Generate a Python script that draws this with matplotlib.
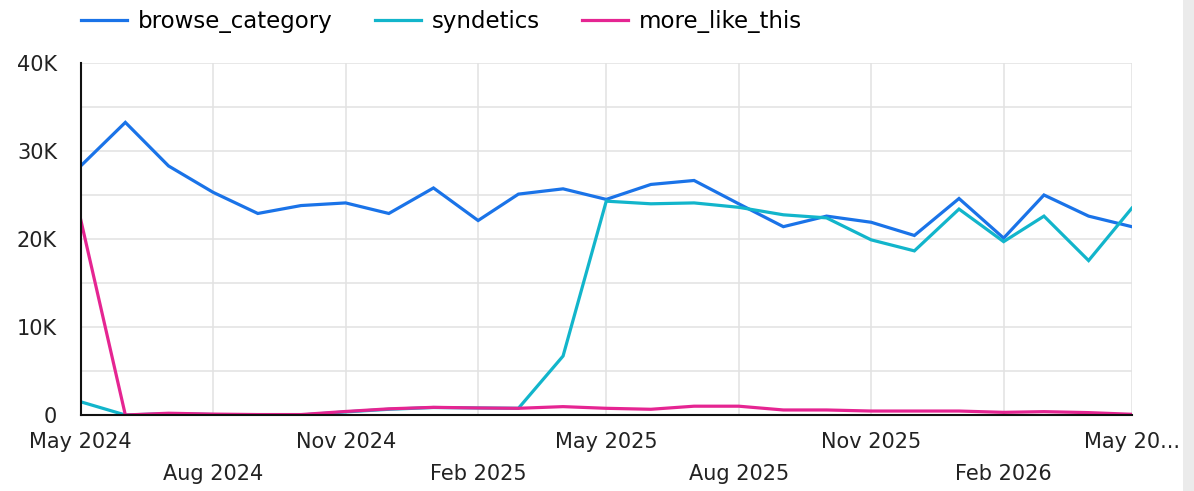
import matplotlib
matplotlib.use("Agg")
import matplotlib.pyplot as plt
from matplotlib.ticker import FuncFormatter, MultipleLocator
from matplotlib.patches import Rectangle
import pandas as pd

months = pd.date_range("2024-05-01", periods=25, freq="MS")

browse_category = [28.3, 33.25, 28.3, 25.3, 22.9, 23.8, 24.1, 22.9, 25.8, 22.1,
                   25.1, 25.7, 24.5, 26.2, 26.65, 24.0, 21.4, 22.6, 21.9, 20.4,
                   24.6, 20.1, 25.0, 22.6, 21.4]
syndetics = [1.5, 0.0, 0.15, 0.05, 0.0, 0.0, 0.35, 0.65, 0.85, 0.8,
             0.76, 6.7, 24.3, 24.0, 24.1, 23.6, 22.75, 22.4, 19.9, 18.65,
             23.4, 19.7, 22.6, 17.55, 23.5]
more_like_this = [22.2, 0.0, 0.2, 0.1, 0.05, 0.05, 0.4, 0.7, 0.87, 0.8,
                  0.76, 0.95, 0.76, 0.65, 1.0, 1.0, 0.57, 0.57, 0.45, 0.45,
                  0.45, 0.3, 0.38, 0.27, 0.08]

series_names = ["browse_category", "syndetics", "more_like_this"]
series_colors = ["#1A73E8", "#12B5CB", "#E52592"]

row1_dates = ["2024-05-01", "2024-11-01", "2025-05-01", "2025-11-01", "2026-05-01"]
row1_labels = ["May 2024", "Nov 2024", "May 2025", "Nov 2025", "May 20..."]
row2_dates = ["2024-08-01", "2025-02-01", "2025-08-01", "2026-02-01"]
row2_labels = ["Aug 2024", "Feb 2025", "Aug 2025", "Feb 2026"]

plt.rcParams["font.family"] = ["DejaVu Sans"]

fig = plt.figure(figsize=(11.94, 4.91), dpi=100)
ax = fig.add_axes([0.0676, 0.1548, 0.8803, 0.7169])

for vals, name, col in zip([browse_category, syndetics, more_like_this],
                           series_names, series_colors):
    ax.plot(months, [v * 1000 for v in vals], color=col, lw=2.3,
            label=name, solid_joinstyle="miter", zorder=3)

ax.set_ylim(0, 40000)
ax.set_xlim(months[0], months[-1])

ax.yaxis.set_major_locator(MultipleLocator(10000))
ax.yaxis.set_minor_locator(MultipleLocator(5000))
ax.yaxis.set_major_formatter(
    FuncFormatter(lambda v, p: "0" if v == 0 else f"{int(v/1000)}K"))

# Quarterly labels staggered over two rows
ax.set_xticks([pd.Timestamp(d) for d in row1_dates])
ax.set_xticklabels(row1_labels)
ax.set_xticks([pd.Timestamp(d) for d in row2_dates], minor=True)
ax.set_xticklabels(row2_labels, minor=True)

ax.tick_params(axis="both", which="both", length=0, labelsize=15,
               labelcolor="#222222")
ax.tick_params(axis="x", which="major", pad=12)
ax.tick_params(axis="x", which="minor", pad=35.5)
ax.tick_params(axis="y", which="both", pad=17)

ax.grid(True, which="both", color="#E2E2E2", lw=1.1, zorder=0)
for s in ["top", "right"]:
    ax.spines[s].set_visible(False)
for s in ["left", "bottom"]:
    ax.spines[s].set_color("#111111")
    ax.spines[s].set_linewidth(1.5)
    ax.spines[s].set_zorder(4)

fig.legend(loc="center left", bbox_to_anchor=(0.0586, 0.957), ncol=3,
           frameon=False, fontsize=16.5, borderpad=0, handlelength=2.0,
           handletextpad=0.48, columnspacing=1.83)

fig.patches.append(Rectangle((0.991, 0), 0.009, 1, transform=fig.transFigure,
                             facecolor="#EBEBEB", edgecolor="none"))

fig.savefig("out.png", dpi=100, facecolor="white")
